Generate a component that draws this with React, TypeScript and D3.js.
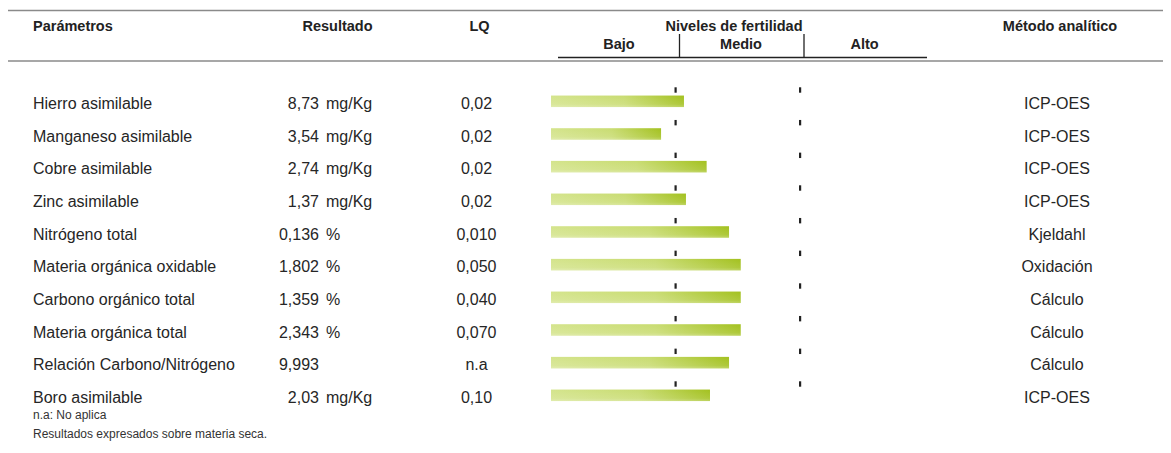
import React from "react";
import * as d3 from "d3";

const parametros = [
  "Hierro asimilable",
  "Manganeso asimilable",
  "Cobre asimilable",
  "Zinc asimilable",
  "Nitrógeno total",
  "Materia orgánica oxidable",
  "Carbono orgánico total",
  "Materia orgánica total",
  "Relación Carbono/Nitrógeno",
  "Boro asimilable",
];
const resultados = ["8,73", "3,54", "2,74", "1,37", "0,136", "1,802", "1,359", "2,343", "9,993", "2,03"];
const unidades = ["mg/Kg", "mg/Kg", "mg/Kg", "mg/Kg", "%", "%", "%", "%", "", "mg/Kg"];
const lq = ["0,02", "0,02", "0,02", "0,02", "0,010", "0,050", "0,040", "0,070", "n.a", "0,10"];
const metodos = ["ICP-OES", "ICP-OES", "ICP-OES", "ICP-OES", "Kjeldahl", "Oxidación", "Cálculo", "Cálculo", "Cálculo", "ICP-OES"];
// fertility level position (0 = start, 1 = Bajo/Medio limit, 2 = Medio/Alto limit)
const niveles = [1.068, 0.884, 1.25, 1.084, 1.43, 1.524, 1.524, 1.524, 1.43, 1.277];
const limites = [1, 2];
const nivelLabels = ["Bajo", "Medio", "Alto"];

const FONT = '"Liberation Sans", Arial, sans-serif';

export default function App() {
  const x = d3.scaleLinear().domain([0, 2]).range([551, 800]);
  const y = d3.scaleLinear().domain([0, parametros.length - 1]).range([101.3, 395.3]);
  const barH = 11.5;
  const textColor = "#262626";
  const fs = 16;

  return (
    <svg
      width={1171}
      height={453}
      style={{ position: "absolute", left: 0, top: 0, display: "block", background: "#fff" }}
      fontFamily={FONT}
    >
      <defs>
        <linearGradient id="barGrad" x1="0" y1="0" x2="1" y2="0">
          <stop offset="0" stopColor="#d4e48c" />
          <stop offset="0.55" stopColor="#c9dc72" />
          <stop offset="1" stopColor="#a3c11f" />
        </linearGradient>
        <linearGradient id="sheen" x1="0" y1="0" x2="0" y2="1">
          <stop offset="0" stopColor="#ffffff" stopOpacity="0.0" />
          <stop offset="0.75" stopColor="#ffffff" stopOpacity="0.12" />
          <stop offset="1" stopColor="#ffffff" stopOpacity="0.3" />
        </linearGradient>
      </defs>

      {/* header lines */}
      <line x1={8} x2={1163} y1={10.5} y2={10.5} stroke="#8a8a8a" strokeWidth={1.5} />
      <line x1={8} x2={1163} y1={61} y2={61} stroke="#8a8a8a" strokeWidth={1.5} />
      <line x1={558} x2={927} y1={57.5} y2={57.5} stroke="#222" strokeWidth={1.5} />
      {limites.map((l, i) => (
        <line key={i} x1={x(l) + 4} x2={x(l) + 4} y1={34} y2={57.5} stroke="#222" strokeWidth={1.3} />
      ))}

      {/* header texts */}
      <g fontWeight="bold" fontSize={14.5} fill="#222">
        <text x={33} y={31}>Parámetros</text>
        <text x={337.5} y={31} textAnchor="middle">Resultado</text>
        <text x={479.5} y={31} textAnchor="middle">LQ</text>
        <text x={734} y={31} textAnchor="middle">Niveles de fertilidad</text>
        <text x={1060} y={31} textAnchor="middle">Método analítico</text>
        {nivelLabels.map((lab, i) => (
          <text key={lab} x={[619, 741, 864.5][i]} y={48.5} textAnchor="middle">{lab}</text>
        ))}
      </g>

      {/* rows */}
      {parametros.map((p, i) => {
        const cy = y(i);
        const base = cy + 7.6;
        return (
          <g key={p}>
            <text x={33} y={base} fontSize={fs} fill={textColor}>{p}</text>
            <text x={319} y={base} fontSize={fs} fill={textColor} textAnchor="end">{resultados[i]}</text>
            {unidades[i] && (
              <text x={326} y={base} fontSize={fs} fill={textColor}>{unidades[i]}</text>
            )}
            <text x={476.5} y={base} fontSize={fs} fill={textColor} textAnchor="middle">{lq[i]}</text>
            <text x={1057} y={base} fontSize={fs} fill={textColor} textAnchor="middle">{metodos[i]}</text>
            <rect x={x(0)} y={cy - barH / 2} width={x(niveles[i]) - x(0)} height={barH} fill="url(#barGrad)" />
            <rect x={x(0)} y={cy - barH / 2} width={x(niveles[i]) - x(0)} height={barH} fill="url(#sheen)" />
            {limites.map((l, k) => (
              <rect key={k} x={x(l) - 1} y={cy - 14} width={2.2} height={5.4} fill="#222" />
            ))}
          </g>
        );
      })}

      {/* footer */}
      <text x={33} y={419} fontSize={12} fill="#333">n.a: No aplica</text>
      <text x={33} y={438} fontSize={12} fill="#333">Resultados expresados sobre materia seca.</text>
    </svg>
  );
}
